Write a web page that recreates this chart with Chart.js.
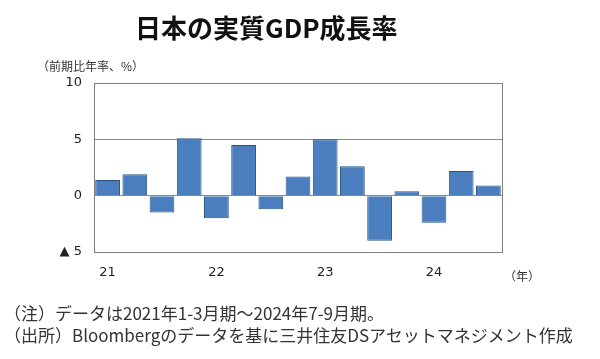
<!DOCTYPE html>
<html lang="ja">
<head>
<meta charset="utf-8">
<script src="https://cdn.jsdelivr.net/npm/chart.js@4/dist/chart.umd.min.js"></script>
<style>
  html, body { margin: 0; padding: 0; background: #fff; }
  #wrap { position: relative; width: 600px; height: 359px; overflow: hidden; background: #fff; }
  #chart { position: absolute; left: 0; top: 0; }
  .txt { position: absolute; white-space: nowrap; font-family: "Noto Sans CJK JP", "Noto Sans", sans-serif; }
  #title { left: 135px; top: 12px; font-size: 26px; line-height: 30px; font-weight: bold; color: #111; }
  #ytitle { left: 37px; top: 58px; font-size: 12px; line-height: 16px; color: #333; }
  #xunit { left: 504px; top: 268px; font-size: 12px; line-height: 16px; color: #333; }
  #note1 { left: 4px; top: 302px; font-size: 17px; line-height: 22px; color: #333; }
  #note2 { left: 4px; top: 324px; font-size: 17px; line-height: 22px; color: #333; }
</style>
</head>
<body>
<div id="wrap">
  <canvas id="chart" width="600" height="359"></canvas>
  <div class="txt" id="title">日本の実質GDP成長率</div>
  <div class="txt" id="ytitle">（前期比年率、%）</div>
  <div class="txt" id="xunit">（年）</div>
  <div class="txt" id="note1">（注）データは2021年1-3月期～2024年7-9月期。</div>
  <div class="txt" id="note2">（出所）Bloombergのデータを基に三井住友DSアセットマネジメント作成</div>
</div>
<script>
// Quarters 2021 Q1 .. 2024 Q3
const quarters = ['2021Q1','2021Q2','2021Q3','2021Q4','2022Q1','2022Q2','2022Q3','2022Q4',
                  '2023Q1','2023Q2','2023Q3','2023Q4','2024Q1','2024Q2','2024Q3'];
// Real GDP growth, q/q annualized (%)
const gdpGrowth = [1.4, 1.9, -1.5, 5.1, -2.0, 4.5, -1.2, 1.7, 5.0, 2.6, -4.0, 0.4, -2.4, 2.2, 0.9];
// x tick labels (shown at first quarter of each year)
const yearTicks = { '2021Q1': '21', '2022Q1': '22', '2023Q1': '23', '2024Q1': '24' };
// y axis range
const yMin = -5, yMax = 10, yStep = 5;

const framePlugin = {
  id: 'frame',
  afterDatasetsDraw(chart) {
    const { ctx, chartArea: a } = chart;
    ctx.save();
    ctx.strokeStyle = '#7f7f7f';
    ctx.lineWidth = 1;
    ctx.strokeRect(Math.round(a.left) + 0.5, Math.round(a.top) + 0.5,
                   Math.round(a.right - a.left), Math.round(a.bottom - a.top));
    ctx.restore();
  }
};

new Chart(document.getElementById('chart'), {
  type: 'bar',
  data: {
    labels: quarters,
    datasets: [{
      data: gdpGrowth,
      backgroundColor: '#4a7ebf',
      borderColor: '#2a5583',
      borderWidth: 1,
      barPercentage: 0.91,
      categoryPercentage: 1.0
    }]
  },
  options: {
    responsive: false,
    animation: false,
    devicePixelRatio: 1,
    layout: { padding: { left: 0, right: 98, top: 83, bottom: 0 } },
    plugins: { legend: { display: false }, tooltip: { enabled: false }, title: { display: false } },
    scales: {
      x: {
        grid: { display: false, drawTicks: false },
        border: { display: false },
        ticks: {
          autoSkip: false, maxRotation: 0, padding: 13,
          color: '#222', font: { family: 'DejaVu Sans', size: 13 },
          callback: function(v, i) { return yearTicks[quarters[i]] || ''; }
        },
        afterFit(scale) { scale.height = 107; }
      },
      y: {
        min: yMin, max: yMax,
        grid: { color: '#8a8a8a', drawTicks: false, lineWidth: 1 },
        border: { display: true, color: '#7f7f7f' },
        ticks: {
          stepSize: yStep, padding: 12,
          color: '#222', font: { family: 'DejaVu Sans', size: 13 },
          callback: function(v) { return v < 0 ? '▲ ' + Math.abs(v) : String(v); }
        },
        afterFit(scale) { scale.width = 94; }
      }
    }
  },
  plugins: [framePlugin]
});
</script>
</body>
</html>
